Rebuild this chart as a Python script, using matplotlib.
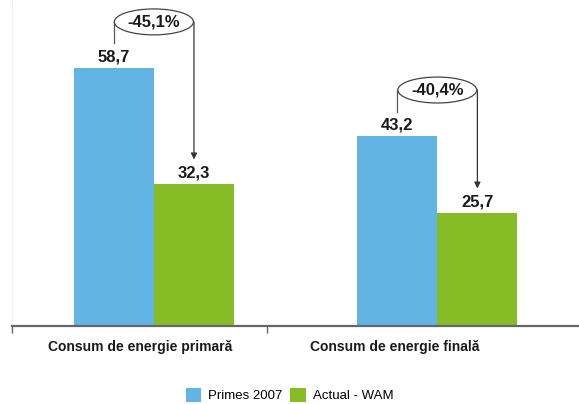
import numpy as np
import matplotlib.pyplot as plt

plt.rcParams['font.family'] = ['Liberation Sans', 'DejaVu Sans']

categories = ['Consum de energie primară', 'Consum de energie finală']
primes_2007 = [58.7, 43.2]
actual_wam = [32.3, 25.7]
changes = ['-45,1%', '-40,4%']
series_names = ['Primes 2007', 'Actual - WAM']

blue = '#62b4e5'
green = '#86bc25'

fig = plt.figure(figsize=(5.79, 4.04), dpi=100)
ax = fig.add_axes([0.021, 0.193, 0.979, 0.805])

x = np.arange(len(categories))
w = 0.283
b1 = ax.bar(x - w / 2, primes_2007, w, color=blue, label=series_names[0])
b2 = ax.bar(x + w / 2, actual_wam, w, color=green, label=series_names[1])

# value labels
for xi, v in zip(x - w / 2, primes_2007):
    ax.text(xi, v + 0.8, f'{v:.1f}'.replace('.', ','), ha='center', va='bottom',
            fontsize=12, fontweight='bold', color='#1a1a1a')
for xi, v in zip(x + w / 2, actual_wam):
    ax.text(xi, v + 0.8, f'{v:.1f}'.replace('.', ','), ha='center', va='bottom',
            fontsize=12, fontweight='bold', color='#1a1a1a')

# change bubbles with bracket arrows
for i in range(len(categories)):
    top = primes_2007[i] + 10.5
    xl, xr = x[i] - w / 2, x[i] + w / 2
    ax.plot([xl, xl], [primes_2007[i] + 5.6, top], color='#555555', lw=0.9, clip_on=False)
    ax.annotate('', xy=(xr, actual_wam[i] + 5.6), xytext=(xr, top),
                arrowprops=dict(arrowstyle='-|>', color='#333333', lw=0.9,
                                mutation_scale=9, shrinkA=0, shrinkB=0),
                annotation_clip=False)
    ax.text(x[i], top, changes[i], ha='center', va='center', fontsize=12,
            fontweight='bold', color='#1a1a1a', zorder=5,
            bbox=dict(boxstyle='ellipse,pad=0.1', fc='white', ec='#444444', lw=0.9))

ax.set_xlim(-0.5, 1.5)
ax.set_ylim(0, 74)

for s in ['top', 'right']:
    ax.spines[s].set_visible(False)
ax.spines['left'].set_color('#eeeeee')
ax.spines['left'].set_linewidth(0.6)
ax.spines['bottom'].set_color('#666666')
ax.spines['bottom'].set_linewidth(1.6)
ax.set_yticks([])

# category labels sit a bit left of the bar groups, as in the original
label_pos = [-0.05, 0.85]
ax.set_xticks([-0.5, 0.4])
ax.set_xticklabels([])
ax.tick_params(axis='x', which='major', direction='out', length=5, width=1, color='#666666')
ax.set_xticks(label_pos, minor=True)
ax.set_xticklabels(categories, minor=True, fontsize=10, fontweight='bold', color='#1a1a1a')
ax.tick_params(axis='x', which='minor', length=0, pad=10)

fig.legend(handles=[b1, b2], loc='lower center', bbox_to_anchor=(0.5, -0.025), ncol=2,
           frameon=False, fontsize=9.5, handlelength=1.2, handleheight=1.3,
           handletextpad=0.5, columnspacing=0.6)

fig.savefig('out.png', dpi=100)
